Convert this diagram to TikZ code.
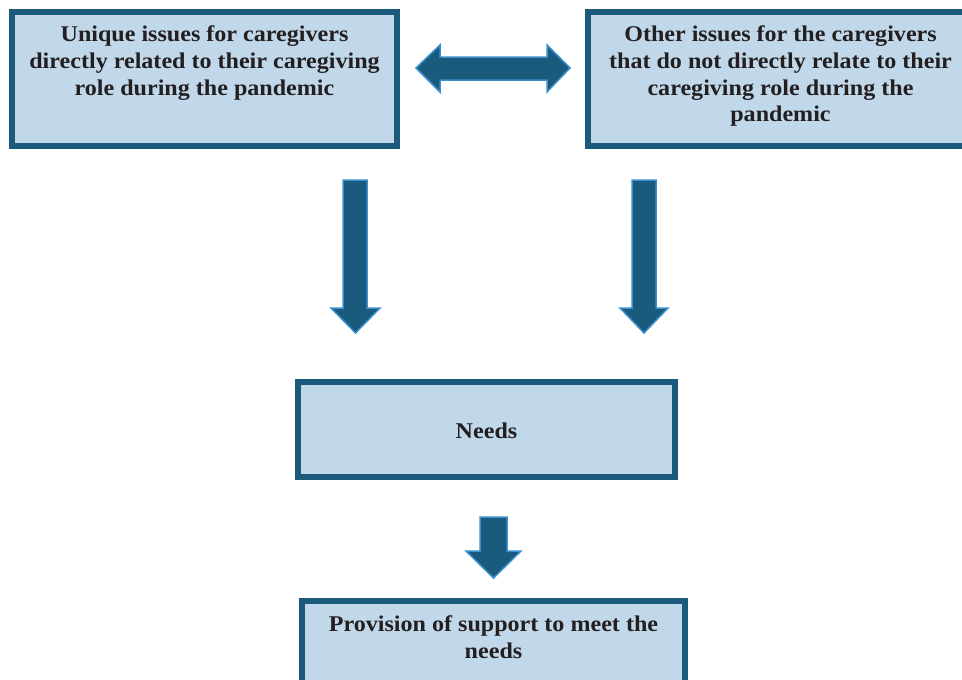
\documentclass[tikz,border=0pt]{standalone}
\usepackage{fontspec}
\setmainfont{Liberation Serif}[FakeStretch=1.07]
\definecolor{boxborder}{HTML}{1B5A7A}
\definecolor{boxfill}{HTML}{C1D8EA}
\definecolor{arrfill}{HTML}{1A5A7C}
\definecolor{arredge}{HTML}{3A8FCF}
\definecolor{txtcol}{HTML}{231F20}
\tikzset{
  boxnode/.style={draw=boxborder, fill=boxfill, line width=6pt, inner sep=0pt, rectangle},
  txtnode/.style={text=txtcol, align=center, font=\fontsize{22.5}{26.6}\selectfont\bfseries, inner sep=0pt, anchor=base},
  blockarrow/.style={fill=arrfill, draw=arredge, line width=1.5pt, line join=miter}
}
\begin{document}
\begin{tikzpicture}[x=1pt,y=-1pt]
\useasboundingbox (0,0) rectangle (962,680);
% boxes
\node[boxnode, minimum width=385pt, minimum height=134pt] (b1) at (204.5,79) {};
\node[txtnode] (t1) at (204.5,95) {Unique issues for caregivers\\directly related to their caregiving\\role during the pandemic};
\node[boxnode, minimum width=385pt, minimum height=134pt] (b2) at (780.5,79) {};
\node[txtnode] (t2) at (780.5,121.7) {Other issues for the caregivers\\that do not directly relate to their\\caregiving role during the\\pandemic};
\node[boxnode, minimum width=377pt, minimum height=95pt] (b3) at (486.5,429.5) {};
\node[txtnode] (t3) at (486.5,438.3) {Needs};
\node[boxnode, minimum width=383pt, minimum height=110pt] (b4) at (493.5,656) {};
\node[txtnode] (t4) at (493.5,658) {Provision of support to meet the\\needs};
% double arrow
\draw[blockarrow] (416,68) -- (440,45) -- (440,57) -- (547,57) -- (547,45) -- (570,68)
  -- (547,92) -- (547,80) -- (440,80) -- (440,92) -- cycle;
% left down arrow
\draw[blockarrow] (343,180) -- (367,180) -- (367,308) -- (380,308) -- (355.5,333)
  -- (331,308) -- (343,308) -- cycle;
% right down arrow
\draw[blockarrow] (632,180) -- (656,180) -- (656,308) -- (668,308) -- (644,333)
  -- (620,308) -- (632,308) -- cycle;
% small down arrow
\draw[blockarrow] (480,517) -- (507,517) -- (507,551) -- (521,551) -- (493.5,578)
  -- (466,551) -- (480,551) -- cycle;
\end{tikzpicture}
\end{document}
